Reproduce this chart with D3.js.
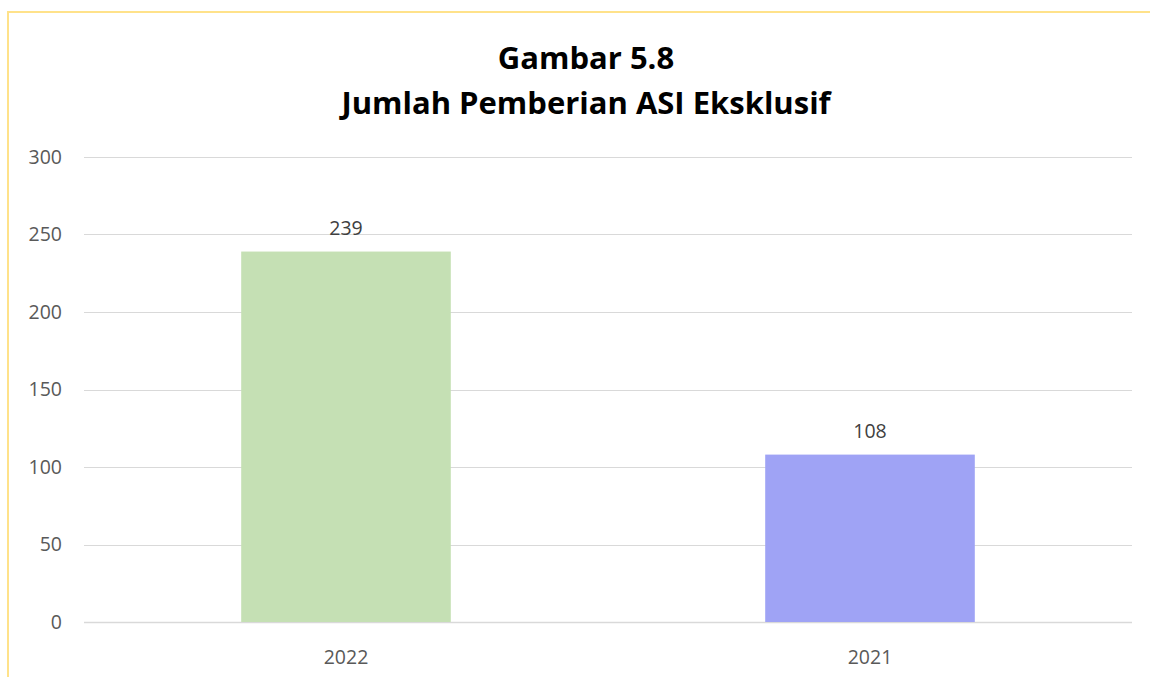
<!DOCTYPE html>
<html>
<head>
<meta charset="utf-8">
<script src="https://cdn.jsdelivr.net/npm/d3@7"></script>
<style>
  html, body { margin: 0; padding: 0; background: #fff; }
  svg { display: block; font-family: "Open Sans", "Noto Sans", sans-serif; }
</style>
</head>
<body>
<svg width="1150" height="677"></svg>
<script>
// chart data
var years = ["2022", "2021"],
    values = [239, 108],
    barColors = ["#C5E0B4", "#9FA3F5"],
    yTicks = [0, 50, 100, 150, 200, 250, 300],
    titleLines = ["Gambar 5.8", "Jumlah Pemberian ASI Eksklusif"];

var svg = d3.select("svg"),
    width = 1150,
    height = 677,
    margin = {top: 157, right: 18, bottom: 55, left: 84},
    plotW = width - margin.left - margin.right,
    plotH = height - margin.top - margin.bottom;

// yellow frame around chart area
svg.append("rect")
    .attr("x", 8).attr("y", 12)
    .attr("width", 1160).attr("height", 700)
    .attr("fill", "none")
    .attr("stroke", "#FFE28A")
    .attr("stroke-width", 2);

var g = svg.append("g").attr("transform", "translate(" + margin.left + "," + margin.top + ")");

var x = d3.scaleBand().domain(years).range([0, plotW]).padding(0);
var y = d3.scaleLinear().domain([0, 300]).range([plotH, 0]);

// gridlines
g.selectAll("line.grid")
  .data(yTicks)
  .enter().append("line")
    .attr("class", "grid")
    .attr("x1", 0).attr("x2", plotW)
    .attr("y1", function(d) { return Math.round(y(d)) + 0.5; })
    .attr("y2", function(d) { return Math.round(y(d)) + 0.5; })
    .attr("stroke", "#D9D9D9")
    .attr("stroke-width", function(d) { return d === 0 ? 1.5 : 1; });

// y labels
g.selectAll("text.ylab")
  .data(yTicks)
  .enter().append("text")
    .attr("x", -22)
    .attr("y", function(d) { return y(d); })
    .attr("dy", "0.35em")
    .attr("text-anchor", "end")
    .attr("fill", "#595959")
    .attr("font-size", 19.5)
    .text(function(d) { return d; });

var barW = x.bandwidth() * 0.4;

g.selectAll("rect.bar")
  .data(values)
  .enter().append("rect")
    .attr("class", "bar")
    .attr("x", function(d, i) { return x(years[i]) + (x.bandwidth() - barW) / 2; })
    .attr("y", function(d) { return y(d); })
    .attr("width", barW)
    .attr("height", function(d) { return plotH - y(d); })
    .attr("fill", function(d, i) { return barColors[i]; });

// value labels
g.selectAll("text.val")
  .data(values)
  .enter().append("text")
    .attr("x", function(d, i) { return x(years[i]) + x.bandwidth() / 2; })
    .attr("y", function(d) { return y(d) - 17; })
    .attr("text-anchor", "middle")
    .attr("fill", "#404040")
    .attr("font-size", 19.5)
    .text(function(d) { return d; });

// x labels
g.selectAll("text.xlab")
  .data(years)
  .enter().append("text")
    .attr("x", function(d) { return x(d) + x.bandwidth() / 2; })
    .attr("y", plotH + 42)
    .attr("text-anchor", "middle")
    .attr("fill", "#595959")
    .attr("font-size", 19.5)
    .text(function(d) { return d; });

// title
svg.selectAll("text.title")
  .data(titleLines)
  .enter().append("text")
    .attr("x", 586)
    .attr("y", function(d, i) { return 69 + i * 45; })
    .attr("text-anchor", "middle")
    .attr("font-weight", "bold")
    .attr("font-size", 31)
    .attr("fill", "#000")
    .text(function(d) { return d; });
</script>
</body>
</html>
